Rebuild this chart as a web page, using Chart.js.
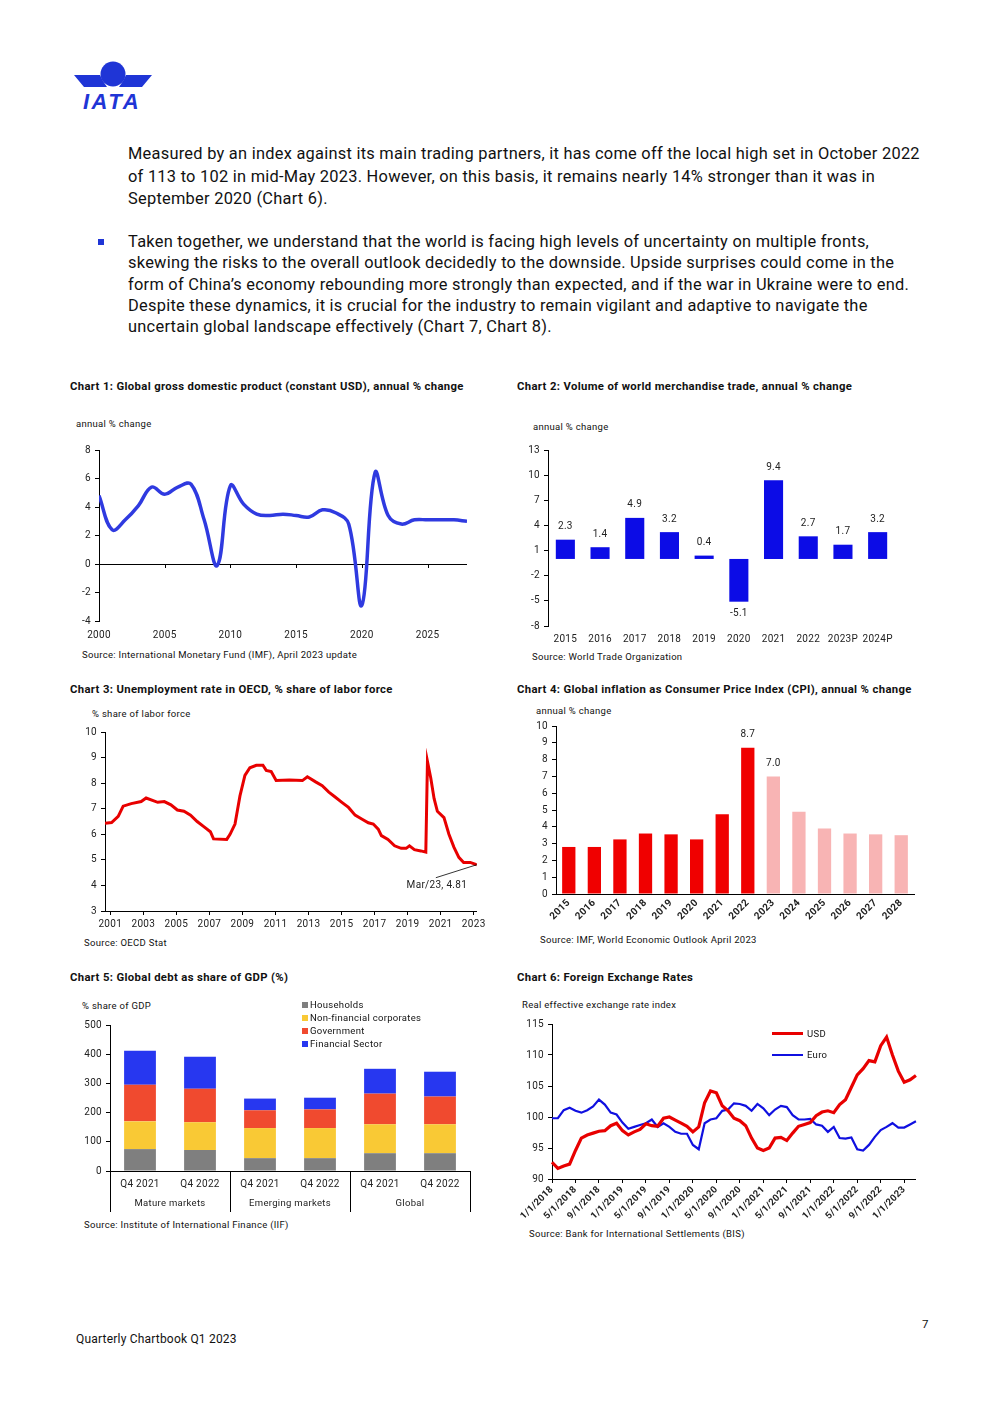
<!DOCTYPE html>
<html lang="en">
<head>
<meta charset="UTF-8" />
<script src="https://cdn.jsdelivr.net/npm/chart.js@4.4.1/dist/chart.umd.min.js"></script>
<style>
  body { margin: 0; background: #fff; font-family: Roboto, "Liberation Sans", sans-serif; color: #111; }
  .page { position: relative; width: 992px; height: 1403px; overflow: hidden; }
  .t { position: absolute; white-space: nowrap; line-height: 12px; }
  .para { position: absolute; left: 128px; font-size: 16.4px; letter-spacing: 0.26px; white-space: nowrap; color: #111; }
  .ctitle { position: absolute; font-size: 11.3px; letter-spacing: 0.35px; font-weight: bold; white-space: nowrap; line-height: 12px; }
  .s { font-size: 9.5px; letter-spacing: 0.3px; }
  .box { position: absolute; }
  .sq { position: absolute; width: 6px; height: 6px; }
  .ln { position: absolute; width: 31px; }
</style>
</head>
<body>
<div class="page">
  <svg style="position:absolute;left:72px;top:58px" width="82" height="56" viewBox="0 0 82 56">
    <circle cx="41" cy="16" r="12.5" fill="#1f35d6" />
    <polygon points="2,17 28,17 31,23 35,29 12,29" fill="#1f35d6" />
    <polygon points="80,17 54,17 51,23 47,29 70,29" fill="#1f35d6" />
    <text x="40" y="51" text-anchor="middle" font-family="Liberation Sans" font-weight="bold" font-style="italic" font-size="22" letter-spacing="2.5" fill="#1f35d6">IATA</text>
  </svg>

  <div class="para" style="top:143px;line-height:22.5px">
    Measured by an index against its main trading partners, it has come off the local high set in October 2022<br>
    of 113 to 102 in mid-May 2023. However, on this basis, it remains nearly 14% stronger than it was in<br>
    September 2020 (Chart 6).
  </div>
  <div style="position:absolute;left:98px;top:239px;width:6px;height:6px;background:#1f35d6"></div>
  <div class="para" style="top:231px;line-height:21.3px">
    Taken together, we understand that the world is facing high levels of uncertainty on multiple fronts,<br>
    skewing the risks to the overall outlook decidedly to the downside. Upside surprises could come in the<br>
    form of China’s economy rebounding more strongly than expected, and if the war in Ukraine were to end.<br>
    Despite these dynamics, it is crucial for the industry to remain vigilant and adaptive to navigate the<br>
    uncertain global landscape effectively (Chart 7, Chart 8).
  </div>

  <div class="ctitle" style="left:70px;top:381px">Chart 1: Global gross domestic product (constant USD), annual % change</div>
  <div class="ctitle" style="left:517px;top:381px">Chart 2: Volume of world merchandise trade, annual % change</div>
  <div class="ctitle" style="left:70px;top:684px">Chart 3: Unemployment rate in OECD, % share of labor force</div>
  <div class="ctitle" style="left:517px;top:684px">Chart 4: Global inflation as Consumer Price Index (CPI), annual % change</div>
  <div class="ctitle" style="left:70px;top:972px">Chart 5: Global debt as share of GDP (%)</div>
  <div class="ctitle" style="left:517px;top:972px">Chart 6: Foreign Exchange Rates</div>

  <div class="t s" style="left:76px;top:418px">annual % change</div>
  <div class="t s" style="left:533px;top:421px">annual % change</div>
  <div class="t s" style="left:92px;top:708px">% share of labor force</div>
  <div class="t s" style="left:536px;top:705px">annual % change</div>
  <div class="t s" style="left:82px;top:1000px">% share of GDP</div>
  <div class="t s" style="left:522px;top:999px">Real effective exchange rate index</div>

  <div class="t s" style="left:82px;top:649px">Source: International Monetary Fund (IMF), April 2023 update</div>
  <div class="t s" style="left:532px;top:651px">Source: World Trade Organization</div>
  <div class="t s" style="left:84px;top:937px">Source: OECD Stat</div>
  <div class="t s" style="left:540px;top:934px">Source: IMF, World Economic Outlook April 2023</div>
  <div class="t s" style="left:84px;top:1219px">Source: Institute of International Finance (IIF)</div>
  <div class="t s" style="left:529px;top:1228px">Source: Bank for International Settlements (BIS)</div>

  <div class="box" style="left:70px;top:440px;width:405px;height:205px"><canvas id="c1"></canvas></div>
  <div class="box" style="left:517px;top:440px;width:383px;height:210px"><canvas id="c2"></canvas></div>
  <div class="box" style="left:70px;top:722px;width:418px;height:210px"><canvas id="c3"></canvas></div>
  <div class="box" style="left:520px;top:716px;width:400px;height:225px"><canvas id="c4"></canvas></div>
  <div class="box" style="left:75px;top:1015px;width:400px;height:205px"><canvas id="c5"></canvas></div>
  <div class="box" style="left:520px;top:1014px;width:405px;height:215px"><canvas id="c6"></canvas></div>

  <div class="sq" style="left:302px;top:1002px;background:#7f7f7f"></div>
  <div class="t s" style="left:310px;top:999px">Households</div>
  <div class="sq" style="left:302px;top:1015px;background:#f9c935"></div>
  <div class="t s" style="left:310px;top:1012px">Non-financial corporates</div>
  <div class="sq" style="left:302px;top:1028px;background:#f04a2f"></div>
  <div class="t s" style="left:310px;top:1025px">Government</div>
  <div class="sq" style="left:302px;top:1041px;background:#2737f0"></div>
  <div class="t s" style="left:310px;top:1038px">Financial Sector</div>

  <div class="ln" style="left:772px;top:1032px;height:3px;background:#e80000"></div>
  <div class="t s" style="left:807px;top:1028px">USD</div>
  <div class="ln" style="left:772px;top:1054px;height:2px;background:#1010e0"></div>
  <div class="t s" style="left:807px;top:1049px">Euro</div>

  <div class="t" style="left:76px;top:1333px;font-size:12px;letter-spacing:0.2px">Quarterly Chartbook Q1 2023</div>
  <div class="t" style="left:922px;top:1318px;font-size:11.5px">7</div>
</div>

<script>
  // Chart 1: world GDP growth
  var gdpYears = [2000, 2001, 2002, 2003, 2004, 2005, 2006, 2007, 2008, 2009, 2010, 2011, 2012, 2013, 2014,
    2015, 2016, 2017, 2018, 2019, 2020, 2021, 2022, 2023, 2024, 2025, 2026, 2027, 2028];
  var gdpGrowth = [4.8, 2.4, 3.1, 4.1, 5.4, 4.9, 5.4, 5.6, 3.1, -0.1, 5.5, 4.2, 3.5, 3.4, 3.5,
    3.4, 3.3, 3.8, 3.6, 2.8, -2.9, 6.4, 3.4, 2.8, 3.1, 3.1, 3.1, 3.1, 3.0];
  var gdpTicks = [2000, 2005, 2010, 2015, 2020, 2025];

  // Chart 2: merchandise trade volume
  var tradeYears = ["2015", "2016", "2017", "2018", "2019", "2020", "2021", "2022", "2023P", "2024P"];
  var tradeGrowth = [2.3, 1.4, 4.9, 3.2, 0.4, -5.1, 9.4, 2.7, 1.7, 3.2];

  // Chart 3: OECD unemployment (decimal year, %)
  var unempDates = [2000.68, 2001.08, 2001.48, 2001.78, 2002.27, 2002.87, 2003.17, 2003.87, 2004.27, 2004.67,
    2005.06, 2005.46, 2005.86, 2006.26, 2006.66, 2007.06, 2007.25, 2008.05, 2008.25, 2008.55,
    2008.85, 2009.15, 2009.45, 2009.84, 2010.24, 2010.44, 2010.74, 2011.04, 2011.84, 2012.63,
    2012.93, 2013.43, 2013.83, 2014.23, 2014.63, 2015.02, 2015.42, 2015.82, 2016.22, 2016.62,
    2016.92, 2017.22, 2017.41, 2017.81, 2018.21, 2018.61, 2018.91, 2019.11, 2019.41, 2019.80,
    2020.10, 2020.20, 2020.40, 2020.60, 2020.80, 2021.20, 2021.50, 2021.80, 2022.10, 2022.39,
    2022.79, 2023.19];
  var unempRate = [6.43, 6.46, 6.7, 7.1, 7.2, 7.28, 7.42, 7.25, 7.28, 7.15,
    6.95, 6.9, 6.75, 6.5, 6.3, 6.1, 5.82, 5.8, 6.0, 6.4,
    7.5, 8.3, 8.6, 8.7, 8.7, 8.5, 8.45, 8.1, 8.12, 8.1,
    8.25, 8.05, 7.9, 7.65, 7.45, 7.25, 7.05, 6.75, 6.6, 6.45,
    6.4, 6.2, 5.95, 5.8, 5.55, 5.45, 5.45, 5.55, 5.4, 5.35,
    5.3, 8.85, 8.2, 7.4, 6.9, 6.65, 6.0, 5.5, 5.1, 4.9,
    4.9, 4.81];
  var unempTicks = [2001, 2003, 2005, 2007, 2009, 2011, 2013, 2015, 2017, 2019, 2021, 2023];

  // Chart 4: global CPI inflation
  var cpiYears = ["2015", "2016", "2017", "2018", "2019", "2020", "2021", "2022", "2023", "2024", "2025", "2026", "2027", "2028"];
  var cpiValues = [2.8, 2.8, 3.25, 3.6, 3.55, 3.25, 4.75, 8.7, 7.0, 4.9, 3.9, 3.6, 3.55, 3.5];
  var cpiFirstForecast = 8;

  // Chart 5: global debt, % of GDP
  var debtPeriods = ["Q4 2021", "Q4 2022", "Q4 2021", "Q4 2022", "Q4 2021", "Q4 2022"];
  var debtGroups = ["Mature markets", "Emerging markets", "Global"];
  var debtHouseholds = [75, 72, 44, 44, 61, 61];
  var debtCorporates = [95, 95, 103, 103, 99, 99];
  var debtGovernment = [125, 115, 61, 64, 105, 95];
  var debtFinancial = [117, 109, 40, 40, 85, 85];

  // Chart 6: real effective exchange rates, monthly Jan 2018 - Mar 2023
  var fxUsd = [92.7, 91.7, 92.1, 92.4, 94.6, 96.6, 97.1, 97.4, 97.7, 97.8, 98.6, 99.0,
    97.8, 97.1, 97.6, 98.0, 98.9, 98.6, 98.5, 99.8, 100.0, 99.5, 99.0, 98.5,
    97.6, 98.4, 102.3, 104.2, 103.9, 101.8, 101.0, 99.8, 99.4, 98.6, 96.6, 95.0,
    94.6, 95.0, 96.6, 96.7, 96.2, 97.4, 98.5, 98.8, 99.1, 100.2, 100.8, 101.0,
    100.7, 102.0, 102.8, 104.8, 106.8, 107.8, 109.1, 108.9, 111.5, 112.9, 110.0, 107.4,
    105.6, 106.0, 106.7];
  var fxEuro = [99.8, 99.8, 101.1, 101.5, 101.0, 100.7, 101.1, 101.7, 102.8, 102.0, 100.7, 100.4,
    99.1, 98.1, 98.4, 98.7, 99.0, 99.6, 98.4, 99.0, 98.4, 97.6, 97.3, 97.3,
    95.5, 94.8, 99.0, 99.6, 99.8, 101.0, 101.2, 102.2, 102.1, 101.8, 101.0, 102.1,
    101.4, 100.3, 101.2, 101.8, 101.6, 100.3, 99.6, 99.6, 99.7, 98.8, 98.6, 97.6,
    98.4, 96.6, 96.5, 96.7, 94.8, 94.6, 95.5, 96.8, 97.9, 98.4, 99.0, 98.3,
    98.3, 98.8, 99.3];
  var fxMonths = [];
  for (var y = 2018; y <= 2023; y++) {
    for (var m = 1; m <= 12; m++) {
      if (fxMonths.length < fxUsd.length) fxMonths.push(m + "/1/" + y);
    }
  }

  Chart.defaults.font.family = "Roboto, 'Liberation Sans', sans-serif";
  Chart.defaults.font.size = 10;
  Chart.defaults.color = "#222";
  Chart.defaults.animation = false;
  Chart.defaults.plugins.legend.display = false;
  Chart.defaults.plugins.tooltip.enabled = false;
  Chart.defaults.maintainAspectRatio = false;

  // a bit of letter spacing so canvas text matches the page text
  Chart.register({
    id: "spacing",
    beforeDraw: function (chart) { chart.ctx.letterSpacing = "0.3px"; }
  });

  function fixWidth(w) { return function (s) { s.width = w; }; }
  function fixHeight(h) { return function (s) { s.height = h; }; }

  function yAxis(w, min, max, step, zeroLine) {
    return {
      min: min, max: max, afterFit: fixWidth(w),
      ticks: { stepSize: step, padding: 4, font: { size: 10 } },
      border: { display: true, color: "#000", width: 1 },
      grid: {
        tickLength: 4, tickColor: "#000",
        color: function (c) { return zeroLine && c.tick && c.tick.value === 0 ? "#000" : "transparent"; }
      }
    };
  }

  // value labels above/below bars
  var valueLabels = {
    id: "valueLabels",
    afterDatasetsDraw: function (chart, args, opts) {
      if (!opts.show) return;
      var ctx = chart.ctx;
      var data = chart.data.datasets[0].data;
      ctx.save();
      ctx.font = "10px " + Chart.defaults.font.family;
      ctx.fillStyle = "#222";
      ctx.textAlign = "center";
      ctx.textBaseline = "middle";
      chart.getDatasetMeta(0).data.forEach(function (bar, i) {
        if (!opts.show(i)) return;
        var v = data[i];
        ctx.fillText(v.toFixed(1), bar.x, v >= 0 ? bar.y - 13 : bar.y + 12);
      });
      ctx.restore();
    }
  };

  // small tick marks on the zero line (chart 1)
  var zeroTicks = {
    id: "zeroTicks",
    afterDraw: function (chart, args, opts) {
      if (!opts.on) return;
      var xs = chart.scales.x, y0 = chart.scales.y.getPixelForValue(0), ctx = chart.ctx;
      ctx.save();
      ctx.strokeStyle = "#000";
      ctx.lineWidth = 1;
      xs.ticks.forEach(function (t) {
        var px = Math.round(xs.getPixelForValue(t.value)) + 0.5;
        ctx.beginPath(); ctx.moveTo(px, y0); ctx.lineTo(px, y0 + 4); ctx.stroke();
      });
      ctx.restore();
    }
  };

  // chart 1
  new Chart(document.getElementById("c1"), {
    type: "line",
    plugins: [zeroTicks],
    data: {
      datasets: [{
        data: gdpYears.map(function (x, i) { return { x: x, y: gdpGrowth[i] }; }),
        borderColor: "#2f3ae0", borderWidth: 3.5, pointRadius: 0, tension: 0.4
      }]
    },
    options: {
      layout: { padding: { top: 9, right: 8 } },
      plugins: { zeroTicks: { on: true } },
      scales: {
        x: {
          type: "linear", min: 2000, max: 2028, afterFit: fixHeight(24),
          afterBuildTicks: function (s) { s.ticks = gdpTicks.map(function (v) { return { value: v }; }); },
          ticks: { callback: function (v) { return String(v); }, padding: 8, maxRotation: 0 },
          border: { display: false }, grid: { display: false, drawTicks: false }
        },
        y: yAxis(29, -4, 8, 2, true)
      }
    }
  });

  // chart 2
  new Chart(document.getElementById("c2"), {
    type: "bar",
    plugins: [valueLabels],
    data: {
      labels: tradeYears,
      datasets: [{ data: tradeGrowth, backgroundColor: "#0c0ce6", barPercentage: 0.55, categoryPercentage: 1 }]
    },
    options: {
      layout: { padding: { top: 8, right: 5 } },
      plugins: { valueLabels: { show: function () { return true; } } },
      scales: {
        x: {
          afterFit: fixHeight(24), ticks: { padding: 7, autoSkip: false, maxRotation: 0 },
          border: { display: false }, grid: { display: false, drawTicks: false }
        },
        y: yAxis(31, -8, 13, 3, true)
      }
    }
  });

  // chart 3 with end-point annotation
  var lastPointNote = {
    id: "lastPointNote",
    afterDatasetsDraw: function (chart, args, opts) {
      if (!opts.text) return;
      var pts = chart.getDatasetMeta(0).data, p = pts[pts.length - 1], ctx = chart.ctx;
      ctx.save();
      ctx.strokeStyle = "#000"; ctx.lineWidth = 0.8;
      ctx.beginPath(); ctx.moveTo(p.x, p.y); ctx.lineTo(p.x - 41, p.y + 13); ctx.stroke();
      ctx.font = "10px " + Chart.defaults.font.family;
      ctx.fillStyle = "#222"; ctx.textAlign = "center"; ctx.textBaseline = "middle";
      ctx.fillText(opts.text, p.x - 40, p.y + 21);
      ctx.restore();
    }
  };
  new Chart(document.getElementById("c3"), {
    type: "line",
    plugins: [lastPointNote],
    data: {
      datasets: [{
        data: unempDates.map(function (x, i) { return { x: x, y: unempRate[i] }; }),
        borderColor: "#e80000", borderWidth: 3, pointRadius: 0, tension: 0
      }]
    },
    options: {
      layout: { padding: { top: 8, right: 6 } },
      plugins: { lastPointNote: { text: "Mar/23, " + unempRate[unempRate.length - 1].toFixed(2) } },
      scales: {
        x: {
          type: "linear", min: 2000.68, max: 2023.19, afterFit: fixHeight(21),
          afterBuildTicks: function (s) { s.ticks = unempTicks.map(function (v) { return { value: v }; }); },
          ticks: { callback: function (v) { return String(v); }, padding: 3, maxRotation: 0 },
          border: { display: true, color: "#000" },
          grid: { drawOnChartArea: false, tickLength: 4, tickColor: "#000" }
        },
        y: yAxis(35, 3, 10, 1, false)
      }
    }
  });

  // chart 4
  new Chart(document.getElementById("c4"), {
    type: "bar",
    plugins: [valueLabels],
    data: {
      labels: cpiYears,
      datasets: [{
        data: cpiValues,
        backgroundColor: cpiValues.map(function (v, i) { return i < cpiFirstForecast ? "#f00000" : "#f8b4b4"; }),
        barPercentage: 0.52, categoryPercentage: 1
      }]
    },
    options: {
      layout: { padding: { top: 8, right: 6 } },
      plugins: { valueLabels: { show: function (i) { return i === 7 || i === 8; } } },
      scales: {
        x: {
          afterFit: fixHeight(47),
          ticks: { autoSkip: false, maxRotation: 45, minRotation: 45, padding: 3, font: { size: 10, weight: "bold" } },
          border: { display: true, color: "#000" }, grid: { display: false, drawTicks: false }
        },
        y: yAxis(36, 0, 10, 1, false)
      }
    }
  });

  // chart 5 group labels under categories
  var groupAxis = {
    id: "groupAxis",
    afterDraw: function (chart, args, opts) {
      if (!opts.groups) return;
      var a = chart.chartArea, ctx = chart.ctx;
      var w = (a.right - a.left) / opts.groups.length;
      ctx.save();
      ctx.strokeStyle = "#000"; ctx.lineWidth = 1;
      for (var k = 0; k <= opts.groups.length; k++) {
        var px = Math.round(a.left + w * k) + 0.5;
        ctx.beginPath(); ctx.moveTo(px, a.bottom); ctx.lineTo(px, a.bottom + 41); ctx.stroke();
      }
      ctx.font = "9.5px " + Chart.defaults.font.family;
      ctx.fillStyle = "#222"; ctx.textAlign = "center"; ctx.textBaseline = "middle";
      opts.groups.forEach(function (g, k) { ctx.fillText(g, a.left + w * (k + 0.5), a.bottom + 33); });
      ctx.restore();
    }
  };
  new Chart(document.getElementById("c5"), {
    type: "bar",
    plugins: [groupAxis],
    data: {
      labels: debtPeriods,
      datasets: [
        { label: "Households", data: debtHouseholds, backgroundColor: "#7f7f7f" },
        { label: "Non-financial corporates", data: debtCorporates, backgroundColor: "#f9c935" },
        { label: "Government", data: debtGovernment, backgroundColor: "#f04a2f" },
        { label: "Financial Sector", data: debtFinancial, backgroundColor: "#2737f0" }
      ].map(function (d) { d.barPercentage = 0.53; d.categoryPercentage = 1; return d; })
    },
    options: {
      layout: { padding: { top: 9, right: 5 } },
      plugins: { groupAxis: { groups: debtGroups } },
      scales: {
        x: {
          stacked: true, afterFit: fixHeight(49), ticks: { padding: 7, autoSkip: false, maxRotation: 0 },
          border: { display: true, color: "#000" }, grid: { display: false, drawTicks: false }
        },
        y: Object.assign(yAxis(35, 0, 500, 100, false), { stacked: true })
      }
    }
  });

  // chart 6
  new Chart(document.getElementById("c6"), {
    type: "line",
    data: {
      labels: fxMonths,
      datasets: [
        { label: "USD", data: fxUsd, borderColor: "#e80000", borderWidth: 3.2, pointRadius: 0, tension: 0 },
        { label: "Euro", data: fxEuro, borderColor: "#1010e0", borderWidth: 2.2, pointRadius: 0, tension: 0 }
      ]
    },
    options: {
      layout: { padding: { top: 8, right: 6 } },
      scales: {
        x: {
          afterFit: fixHeight(50),
          ticks: {
            autoSkip: false, maxRotation: 45, minRotation: 45, padding: 1, font: { size: 9.5, weight: "bold" },
            callback: function (v, i) { return i % 4 === 0 ? fxMonths[i] : ""; }
          },
          border: { display: true, color: "#000" },
          grid: {
            drawOnChartArea: false, tickLength: 4,
            tickColor: function (c) { return c.index % 4 === 0 ? "#000" : "transparent"; }
          }
        },
        y: yAxis(32, 90, 115, 5, false)
      }
    }
  });
</script>
</body>
</html>
